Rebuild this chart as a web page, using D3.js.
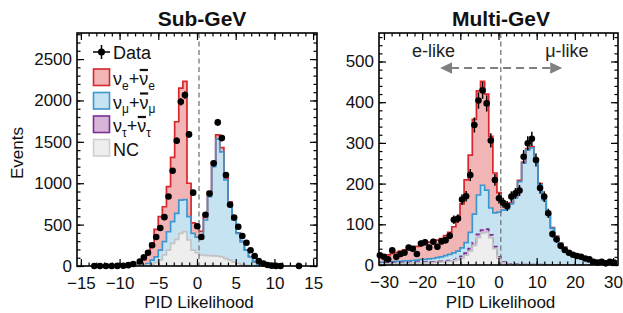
<!DOCTYPE html>
<html><head><meta charset="utf-8">
<script src="https://cdn.jsdelivr.net/npm/d3@7"></script>
<style>
body{margin:0;background:#fff;}
svg{display:block;font-family:"Liberation Sans",Arial,Helvetica,sans-serif;}
</style></head><body>
<svg id="c" width="623" height="313"></svg>
<script>
// ---------------- DATA ----------------
// Sub-GeV histogram (bins start at subBinStart, width subBinWidth)
const subBinStart = -7.655, subBinWidth = 0.53;
const subNC   = [5,8,10,20,40,75,133,193,274,322,395,415,314,193,160,133,128,125,122,120,110,90,70,50,30,18,8,3,1,0];
const subTau  = [0,0,0,0,0,0,0,0,0,0,0,0,0,0,0,0,0,0,0,0,0,0,0,0,0,0,0,0,0,0];
const subNuMu = [3,7,20,52,70,118,161,221,261,314,402,386,282,202,190,241,428,712,1078,1414,1270,949,687,506,365,276,185,109,51,12];
const subNuE  = [32,60,110,202,333,403,422,544,777,1107,1353,1429,404,125,120,46,44,63,50,51,50,26,18,10,5,3,2,1,1,0];
const subDataX = [-13.27,-12.53,-11.76,-11.02,-10.29,-9.52,-8.87,-8.23,-7.39,-6.86,-6.33,-5.80,-5.27,-4.74,-4.21,-3.68,-3.15,-2.62,-2.09,-1.56,-1.03,-0.50,0.03,0.56,1.09,1.62,2.15,2.68,3.21,3.74,4.27,4.80,5.33,5.86,6.39,6.92,7.45,7.98,8.58,9.11,9.65,10.20,10.79,13.17];
const subDataY = [0,0,0,0,1,3,10,25,55,105,160,250,350,460,590,840,1150,1514,1985,2065,1590,886,480,350,620,875,1240,1735,1545,1100,740,585,475,362,280,190,120,60,30,12,4,1,0,0];

// Multi-GeV histogram (data points sit at bin centres)
const multiBinStart = -31.6, multiBinWidth = 1.0757;
const multiNC   = [3,3,3,3,4,4,4,4,5,5,5,5,6,6,7,7,8,9,10,13,17,24,34,48,67,78,80,67,40,17,5,2,1,1,1,1,1,1,1,1,1,0,0,0,0,0,0,0,0,0,0,0,0,0,0,0,0,0];
const multiTau  = [2,2,2,2,2,2,2,2,2,2,2,2,2,2,2,2,2,2,2,3,4,5,6,7,8,8,8,7,5,3,2,1,1,1,0,0,0,0,0,0,0,0,0,0,0,0,0,0,0,0,0,0,0,0,0,0,0,0];
const multiNuMu = [2,2,3,3,3,3,4,4,4,5,6,7,7,8,9,11,13,15,18,18,21,26,40,70,97,110,96,66,83,110,128,135,148,163,204,249,282,287,257,196,159,123,90,70,53,43,33,27,22,19,15,8,5,4,3,2,2,2];
const multiNuE  = [13,15,17,20,22,25,27,30,32,34,37,39,41,42,43,45,49,54,64,76,108,154,190,233,256,255,236,176,98,48,15,4,3,3,3,3,3,3,3,3,3,2,2,1,1,1,1,1,1,1,0,0,0,0,0,0,0,0];
const multiDataY = [24,20,14,36,20,27,30,43,40,27,53,56,43,57,45,58,61,72,111,114,161,169,221,344,404,429,397,306,209,164,153,145,168,176,183,266,299,310,258,189,168,127,76,63,47,37,30,25,22,20,16,14,8,6,8,4,8,6];

// Ticks
const subXTicks = [-15,-10,-5,0,5,10,15];
const subYTicks = [0,500,1000,1500,2000,2500];
const multiXTicks = [-30,-20,-10,0,10,20,30];
const multiYTicks = [0,100,200,300,400,500];
const cutValues = [0.26, 0.6];

const legendLabels = [["ν","e"],["ν","μ"],["ν","τ"]];
// ---------------------------------------

const svg = d3.select("#c");
const FONT = '"Liberation Sans",Arial,Helvetica,sans-serif';
const col = {
  eFill:"#f2b5b5", eLine:"#d8262c",
  muFill:"#c6e3f1", muLine:"#3b97cf",
  tauFill:"#d7b4d8", tauLine:"#7b2f92",
  ncFill:"#eeeeee", ncLine:"#c4c4c4"
};

function drawPanel(cfg, idx){
  const g = svg.append("g");
  const x = d3.scaleLinear().domain(cfg.xDomain).range([cfg.left, cfg.right]);
  const y = d3.scaleLinear().domain(cfg.yDomain).range([cfg.bottom, cfg.top]);
  const clipId = "clip"+idx;
  svg.append("clipPath").attr("id",clipId).append("rect")
    .attr("x",cfg.left).attr("y",cfg.top)
    .attr("width",cfg.right-cfg.left).attr("height",cfg.bottom-cfg.top);

  const rows = cfg.nc.map((v,i)=>({nc:v, tau:cfg.tau[i], mu:cfg.mu[i], e:cfg.e[i]}));
  const series = d3.stack().keys(["nc","tau","mu","e"])(rows);
  const n = rows.length;
  const end = cfg.binStart + n*cfg.binWidth;
  function steps(s){
    const pts=[];
    s.forEach((d,i)=>{
      const x0 = cfg.binStart + i*cfg.binWidth, x1 = x0 + cfg.binWidth;
      pts.push([x0,d[1]]); pts.push([x1,d[1]]);
    });
    return pts;
  }
  const hg = g.append("g").attr("clip-path",`url(#${clipId})`);
  const area = d3.area().x(d=>x(d[0])).y0(y(0)).y1(d=>y(d[1]));
  const line = d3.line().x(d=>x(d[0])).y(d=>y(d[1]));
  const fills = [col.ncFill, col.tauFill, col.muFill, col.eFill];
  for(let k=3;k>=0;k--){
    hg.append("path").attr("d",area(steps(series[k]))).attr("fill",fills[k]);
  }
  const lineOrder = [
    {k:3, c:col.eLine, dash:null},
    {k:2, c:col.muLine, dash:null},
    {k:1, c:col.tauLine, dash:"5,3", show:cfg.showTau},
    {k:0, c:col.ncLine, dash:null}
  ];
  lineOrder.forEach(o=>{
    if(o.show===false) return;
    const pts = [[cfg.binStart,0], ...steps(series[o.k]), [end,0]];
    const p = hg.append("path").attr("d",line(pts)).attr("fill","none")
      .attr("stroke",o.c).attr("stroke-width",1.7).attr("stroke-linejoin","miter");
    if(o.dash) p.attr("stroke-dasharray",o.dash);
  });

  // cut line
  g.append("line").attr("x1",x(cfg.cut)).attr("x2",x(cfg.cut))
    .attr("y1",cfg.top).attr("y2",cfg.bottom)
    .attr("stroke","#777").attr("stroke-width",1.3).attr("stroke-dasharray","5,3.5");

  // data
  const dg = g.append("g");
  cfg.dataX.forEach((xv,i)=>{
    const v = cfg.dataY[i];
    const err = Math.sqrt(v);
    if(v>0){
      dg.append("line").attr("x1",x(xv)).attr("x2",x(xv))
        .attr("y1",y(v-err)).attr("y2",y(v+err))
        .attr("stroke","#000").attr("stroke-width",1.5);
    }
    dg.append("circle").attr("cx",x(xv)).attr("cy",y(v)).attr("r",3.3).attr("fill","#000");
  });

  // frame & ticks
  function tk(axis, tr){
    const a = g.append("g").attr("transform",tr).call(axis);
    a.select(".domain").remove();
    a.selectAll("line").attr("stroke","#000").attr("stroke-width",1.2);
    return a;
  }
  const xMinor = d3.range(Math.ceil(cfg.xDomain[0]/cfg.xMinorStep)*cfg.xMinorStep, cfg.xDomain[1], cfg.xMinorStep);
  const yMinor = d3.range(0, cfg.yDomain[1], cfg.yMinorStep);
  tk(d3.axisBottom(x).tickValues(xMinor).tickSize(-3.5).tickFormat(""), `translate(0,${cfg.bottom})`);
  tk(d3.axisBottom(x).tickValues(cfg.xTicks).tickSize(-7).tickFormat(""), `translate(0,${cfg.bottom})`);
  tk(d3.axisTop(x).tickValues(xMinor).tickSize(-3.5).tickFormat(""), `translate(0,${cfg.top})`);
  tk(d3.axisTop(x).tickValues(cfg.xTicks).tickSize(-7).tickFormat(""), `translate(0,${cfg.top})`);
  tk(d3.axisLeft(y).tickValues(yMinor).tickSize(-3.5).tickFormat(""), `translate(${cfg.left},0)`);
  tk(d3.axisLeft(y).tickValues(cfg.yTicks).tickSize(-7).tickFormat(""), `translate(${cfg.left},0)`);
  tk(d3.axisRight(y).tickValues(yMinor).tickSize(-3.5).tickFormat(""), `translate(${cfg.right},0)`);
  tk(d3.axisRight(y).tickValues(cfg.yTicks).tickSize(-7).tickFormat(""), `translate(${cfg.right},0)`);
  g.append("rect").attr("x",cfg.left).attr("y",cfg.top)
    .attr("width",cfg.right-cfg.left).attr("height",cfg.bottom-cfg.top)
    .attr("fill","none").attr("stroke","#000").attr("stroke-width",1.6);

  const fmt = d3.format("d");
  const xl = tk(d3.axisBottom(x).tickValues(cfg.xTicks).tickSize(0).tickPadding(11).tickFormat(fmt), `translate(0,${cfg.bottom})`);
  xl.selectAll("text").attr("font-size",17).attr("font-family",FONT).attr("fill","#111");
  const yl = tk(d3.axisLeft(y).tickValues(cfg.yTicks).tickSize(0).tickPadding(5).tickFormat(fmt), `translate(${cfg.left},0)`);
  yl.selectAll("text").attr("font-size",17).attr("font-family",FONT).attr("fill","#111");

  // title & x label
  g.append("text").attr("x",cfg.titleX).attr("y",26).attr("text-anchor","middle")
    .attr("font-size",21).attr("font-weight","bold").attr("fill","#111").text(cfg.title);
  g.append("text").attr("x",(cfg.left+cfg.right)/2+2).attr("y",308).attr("text-anchor","middle")
    .attr("font-size",17).attr("fill","#111").text("PID Likelihood");
  return {x,y,g};
}

const sub = drawPanel({
  xDomain:[-15.5,15.5], yDomain:[0,2815], left:77, right:317, top:33, bottom:266,
  binStart:subBinStart, binWidth:subBinWidth,
  nc:subNC, tau:subTau, mu:subNuMu, e:subNuE, showTau:false,
  dataX:subDataX, dataY:subDataY, cut:cutValues[0],
  xTicks:subXTicks, yTicks:subYTicks, xMinorStep:1, yMinorStep:100,
  title:"Sub-GeV", titleX:202
},0);

const multiDataX = multiDataY.map((d,i)=>multiBinStart + (i+0.5)*multiBinWidth);
const multi = drawPanel({
  xDomain:[-31.3,31.3], yDomain:[0,570], left:379, right:618, top:33, bottom:265,
  binStart:multiBinStart, binWidth:multiBinWidth,
  nc:multiNC, tau:multiTau, mu:multiNuMu, e:multiNuE, showTau:true,
  dataX:multiDataX, dataY:multiDataY, cut:cutValues[1],
  xTicks:multiXTicks, yTicks:multiYTicks, xMinorStep:2, yMinorStep:20,
  title:"Multi-GeV", titleX:501
},1);

// y-axis title
svg.append("text").attr("transform","translate(23,153) rotate(-90)").attr("text-anchor","middle")
  .attr("font-size",17).attr("fill","#111").text("Events");

// ---- Legend (Sub-GeV) ----
const lg = svg.append("g").attr("font-size",18).attr("fill","#111");
lg.append("line").attr("x1",93).attr("x2",110).attr("y1",52).attr("y2",52).attr("stroke","#000").attr("stroke-width",1.5);
lg.append("line").attr("x1",101.5).attr("x2",101.5).attr("y1",45).attr("y2",59).attr("stroke","#000").attr("stroke-width",1.5);
lg.append("circle").attr("cx",101.5).attr("cy",52).attr("r",3.5).attr("fill","#000");
lg.append("text").attr("x",113).attr("y",58.5).text("Data");
const boxes = [
  {f:col.eFill, s:col.eLine, y:69},
  {f:col.muFill, s:col.muLine, y:92.5},
  {f:col.tauFill, s:col.tauLine, y:116},
  {f:col.ncFill, s:"#cfcfcf", y:139.5}
];
boxes.forEach((b,i)=>{
  lg.append("rect").attr("x",93.5).attr("y",b.y).attr("width",16).attr("height",16.5)
    .attr("fill",b.f).attr("stroke",b.s).attr("stroke-width",1.6);
  const base = b.y+16;
  if(i<3){
    const [nu,sb] = legendLabels[i];
    const t = lg.append("text").attr("x",113).attr("y",base);
    t.append("tspan").text(nu);
    t.append("tspan").attr("font-size",12).attr("dy",4.5).text(sb);
    t.append("tspan").attr("dy",-4.5).text("+");
    t.append("tspan").text(nu);
    t.append("tspan").attr("font-size",12).attr("dy",4.5).text(sb);
    const node = t.node();
    const s = node.getStartPositionOfChar(3).x, e = node.getEndPositionOfChar(3).x;
    lg.append("line").attr("x1",s+0.5).attr("x2",e-0.3).attr("y1",base-15).attr("y2",base-15)
      .attr("stroke","#111").attr("stroke-width",2.2);
  } else {
    lg.append("text").attr("x",113).attr("y",base).text("NC");
  }
});

// ---- Annotations (Multi-GeV) ----
const mx = multi.x, my = multi.y;
const ag = svg.append("g");
const ay = my(484);
ag.append("line").attr("x1",mx(-15.3)+11).attr("x2",mx(16.7)-11).attr("y1",ay).attr("y2",ay)
  .attr("stroke","#808080").attr("stroke-width",2).attr("stroke-dasharray","8,5");
ag.append("path").attr("d",`M${mx(-15.3)},${ay}L${mx(-15.3)+12},${ay-5.8}L${mx(-15.3)+12},${ay+5.8}Z`).attr("fill","#808080");
ag.append("path").attr("d",`M${mx(16.7)},${ay}L${mx(16.7)-12},${ay-5.8}L${mx(16.7)-12},${ay+5.8}Z`).attr("fill","#808080");
ag.append("text").attr("x",mx(-17)).attr("y",my(510)).attr("text-anchor","middle").attr("font-size",18).attr("fill","#222").text("e-like");
ag.append("text").attr("x",mx(17.9)).attr("y",my(510)).attr("text-anchor","middle").attr("font-size",18).attr("fill","#222").text("μ-like");
</script>
</body></html>
